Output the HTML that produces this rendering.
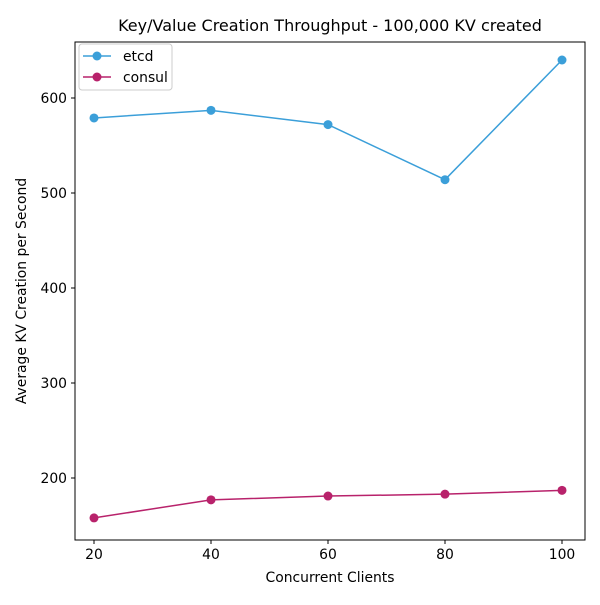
<!DOCTYPE html>
<html><head><meta charset="utf-8"><style>
body{margin:0;background:#fff;}
svg text{font-family:"DejaVu Sans","Liberation Sans",sans-serif;}
</style></head><body>
<svg id="chart" width="600" height="600" xmlns="http://www.w3.org/2000/svg">
<rect width="600" height="600" fill="#fff"/>
<text x="330" y="31" font-size="16" text-anchor="middle" fill="#000">Key/Value Creation Throughput - 100,000 KV created</text>
<rect x="75" y="42" width="510" height="498" fill="none" stroke="#000" stroke-width="1"/>
<g id="xticks"></g><g id="yticks"></g><g id="series"></g>
<text x="330" y="582" font-size="13.9" text-anchor="middle">Concurrent Clients</text>
<text transform="translate(26,291) rotate(-90)" font-size="13.9" text-anchor="middle">Average KV Creation per Second</text>
<g>
<rect x="79" y="44" width="93" height="46" rx="3" fill="#fff" stroke="#ccc"/>
<g><line x1="83" y1="56" x2="111" y2="56" stroke="#3b9fd9" stroke-width="1.5"/><circle cx="97" cy="56" r="4.5" fill="#3b9fd9"/><text x="123" y="61" font-size="13.9">etcd</text></g>
<g><line x1="83" y1="77" x2="111" y2="77" stroke="#b8226b" stroke-width="1.5"/><circle cx="97" cy="77" r="4.5" fill="#b8226b"/><text x="123" y="82" font-size="13.9">consul</text></g>
</g>
</svg>
<script>
const categories=[20,40,60,80,100];
const etcdValues=[579,587,572,514,640];
const consulValues=[158,177,181,183,187];
const xTickLabels=[20,40,60,80,100];
const yTickLabels=[200,300,400,500,600];
const NS="http://www.w3.org/2000/svg";
const xs=v=>94+(v-20)*(562-94)/80;
const ys=v=>478-(v-200)*(478-98)/400;
function mk(t,a,p){const e=document.createElementNS(NS,t);for(const k in a)e.setAttribute(k,a[k]);p.appendChild(e);return e;}
const xg=document.getElementById('xticks'),yg=document.getElementById('yticks'),sg=document.getElementById('series');
xTickLabels.forEach(v=>{const g=mk('g',{},xg);


mk('line',{x1:xs(v),x2:xs(v),y1:540,y2:544,stroke:'#000'},g);
const t=mk('text',{x:xs(v),y:559,'font-size':13.9,'text-anchor':'middle'},g);t.textContent=v;});
yTickLabels.forEach(v=>{const g=mk('g',{},yg);


mk('line',{x1:71,x2:75,y1:ys(v),y2:ys(v),stroke:'#000'},g);
const t=mk('text',{x:67,y:ys(v)+5,'font-size':13.9,'text-anchor':'end'},g);t.textContent=v;});
[['etcd',etcdValues,'#3b9fd9'],['consul',consulValues,'#b8226b']].forEach(([n,vals,c])=>{
const g=mk('g',{},sg);


mk('polyline',{points:vals.map((v,i)=>xs(categories[i])+','+ys(v)).join(' '),fill:'none',stroke:c,'stroke-width':1.5},g);
vals.forEach((v,i)=>{const p=mk('circle',{cx:xs(categories[i]),cy:ys(v),r:4.5,fill:c},g);

});
});
</script>
</body></html>
